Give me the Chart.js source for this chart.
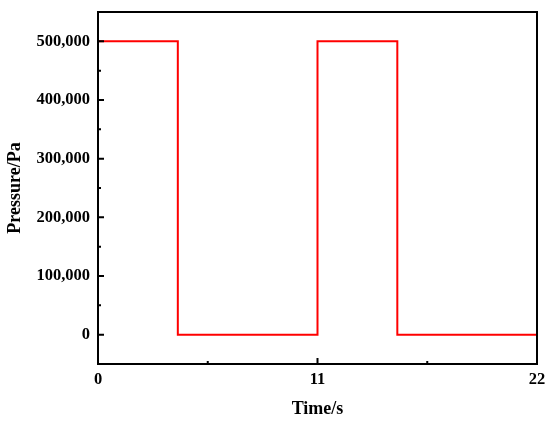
<!DOCTYPE html>
<html>
<head>
<meta charset="utf-8">
<script src="https://cdn.jsdelivr.net/npm/chart.js@4.4.1/dist/chart.umd.min.js"></script>
<style>
  html, body { margin: 0; padding: 0; background: #fff; }
  #wrap { width: 550px; height: 425px; }
</style>
</head>
<body>
<div id="wrap"><canvas id="c" width="550" height="425"></canvas></div>
<script>
// Data (stepped square pulse)
const times = [0, 4, 11, 15, 22];
const pressures = [500000, 0, 500000, 0, 0];
const xTicks = [0, 11, 22];
const xMinorTicks = [5.5, 16.5];
const yTicks = [0, 100000, 200000, 300000, 400000, 500000];
const yMinorTicks = [50000, 150000, 250000, 350000, 450000];

const points = times.map((t, i) => ({ x: t, y: pressures[i] }));
const FONT = "'Liberation Serif', 'Times New Roman', serif";

const framePlugin = {
  id: 'frame',
  afterDraw(chart) {
    const { ctx, chartArea: a, scales } = chart;
    ctx.save();
    ctx.strokeStyle = '#000';
    ctx.lineWidth = 2;
    ctx.strokeRect(a.left, a.top, a.right - a.left, a.bottom - a.top);
    ctx.beginPath();
    const major = 6, minor = 3;
    xTicks.forEach(v => {
      const px = scales.x.getPixelForValue(v);
      ctx.moveTo(px, a.bottom); ctx.lineTo(px, a.bottom - major);
    });
    xMinorTicks.forEach(v => {
      const px = scales.x.getPixelForValue(v);
      ctx.moveTo(px, a.bottom); ctx.lineTo(px, a.bottom - minor);
    });
    yTicks.forEach(v => {
      const py = scales.y.getPixelForValue(v);
      ctx.moveTo(a.left, py); ctx.lineTo(a.left + major, py);
    });
    yMinorTicks.forEach(v => {
      const py = scales.y.getPixelForValue(v);
      ctx.moveTo(a.left, py); ctx.lineTo(a.left + minor, py);
    });
    ctx.stroke();
    ctx.restore();
  }
};

new Chart(document.getElementById('c'), {
  type: 'line',
  data: {
    datasets: [{
      data: points,
      borderColor: '#ff0000',
      borderWidth: 2,
      stepped: 'before',
      pointRadius: 0,
      fill: false
    }]
  },
  options: {
    responsive: false,
    animation: false,
    layout: { padding: { left: 0, right: 13, top: 12, bottom: 0 } },
    plugins: { legend: { display: false }, tooltip: { enabled: false } },
    scales: {
      x: {
        type: 'linear',
        min: 0, max: 22,
        afterBuildTicks: s => { s.ticks = xTicks.map(v => ({ value: v })); },
        afterFit: s => { s.height = 61; s.paddingLeft = 0; s.paddingRight = 0; },
        grid: { display: false, tickLength: 0 },
        border: { display: false },
        ticks: {
          color: '#000', padding: 6,
          font: { family: FONT, size: 16.5, weight: 'bold' },
          maxRotation: 0
        },
        title: {
          display: true, text: 'Time/s', color: '#000',
          font: { family: FONT, size: 18, weight: 'bold' },
          padding: { top: 0, bottom: 5 }
        }
      },
      y: {
        type: 'linear',
        min: -50000, max: 550000,
        afterBuildTicks: s => { s.ticks = yTicks.map(v => ({ value: v })); },
        afterFit: s => { s.width = 98; s.paddingTop = 0; s.paddingBottom = 0; },
        grid: { display: false, tickLength: 0 },
        border: { display: false },
        ticks: {
          color: '#000', padding: 8,
          font: { family: FONT, size: 16.5, weight: 'bold' },
          callback: v => v.toLocaleString('en-US')
        },
        title: {
          display: true, text: 'Pressure/Pa', color: '#000',
          font: { family: FONT, size: 18, weight: 'bold' },
          padding: { top: 5, bottom: 0 }
        }
      }
    }
  },
  plugins: [framePlugin]
});
</script>
</body>
</html>
